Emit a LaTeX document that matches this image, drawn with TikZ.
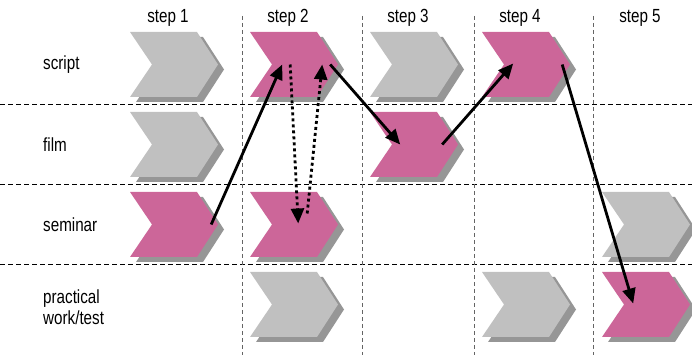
\documentclass[tikz,border=0pt]{standalone}
\usepackage{fontspec}
\usepackage{xcolor}
\usepackage{tikz}
\usetikzlibrary{calc,arrows.meta}
\newfontfamily\gridfont{Liberation Sans}[FakeStretch=0.8]
\definecolor{chevgray}{RGB}{192, 192, 192}
\definecolor{chevpink}{RGB}{204, 102, 153}
\definecolor{chevshade}{RGB}{150, 150, 150}
\definecolor{vlinegray}{RGB}{100, 100, 100}

\begin{document}
\begin{tikzpicture}[x=1pt,y=1pt,
  arr/.style={-{Triangle[length=15pt,width=13pt]}, line width=2.8pt},
  dotarr/.style={arr, dash pattern=on 3pt off 3pt},
  lbl/.style={font=\gridfont\fontsize{19}{21}\selectfont, inner sep=0},
  cell/.style={minimum width=88pt, minimum height=65pt, inner sep=0, anchor=west}]
\useasboundingbox (0,0) rectangle (692,358);

% Grid
\foreach \y in {254, 174, 94} {
    \draw[black, line width=0.8pt, dash pattern=on 5pt off 3pt] (0,\y) -- (692,\y);
}
\foreach \x in {242, 362, 474, 593} {
    \draw[vlinegray, line width=0.9pt, dash pattern=on 4pt off 3pt] (\x,342) -- (\x,3);
}

% Column and row labels
\node[lbl] (st1) at (168,340) {step 1};
\node[lbl] (st2) at (288,340) {step 2};
\node[lbl] (st3) at (408,340) {step 3};
\node[lbl] (st4) at (520,340) {step 4};
\node[lbl] (st5) at (640,340) {step 5};
\node[lbl, anchor=west] (rscr) at (43,293.5) {script};
\node[lbl, anchor=west] (rfilm) at (43,213.5) {film};
\node[lbl, anchor=west] (rsem) at (43,133.5) {seminar};
\node[lbl, anchor=west, align=left] (rprac) at (43,51) {practical\\work/test};

% Chevrons with shadow
\foreach \cx/\cy/\col/\nm in {
    130/293.5/chevgray/scr1, 250/293.5/chevpink/scr2, 370/293.5/chevgray/scr3, 482/293.5/chevpink/scr4,
    130/213.5/chevgray/film1, 370/213.5/chevpink/film3,
    130/133.5/chevpink/sem1, 250/133.5/chevpink/sem2, 602/133.5/chevgray/sem5,
    250/53.5/chevgray/prac2, 482/53.5/chevgray/prac4, 602/53.5/chevpink/prac5} {
    \fill[chevshade, shift={(\cx+6,\cy-5)}] (0,32.5) -- (67,32.5) -- (88,0) -- (67,-32.5) -- (0,-32.5) -- (22,0) -- cycle;
    \fill[\col, shift={(\cx,\cy)}] (0,32.5) -- (67,32.5) -- (88,0) -- (67,-32.5) -- (0,-32.5) -- (22,0) -- cycle;
    \node[cell] (\nm) at (\cx,\cy) {};
}

% Path through the steps
\draw[arr] ([xshift=37pt]sem1.center) -- ([xshift=-12pt]scr2.center);
\draw[dotarr] ([xshift=-4pt]scr2.center) -- ([xshift=4pt,yshift=1pt]sem2.center);
\draw[dotarr] ([xshift=13pt,yshift=11pt]sem2.center) -- ([xshift=28pt]scr2.center);
\draw[arr] ([xshift=36pt]scr2.center) -- ([xshift=-14pt]film3.center);
\draw[arr] ([xshift=28pt]film3.center) -- ([xshift=-13pt,yshift=1pt]scr4.center);
\draw[arr] ([xshift=36pt]scr4.center) -- ([xshift=-13pt,yshift=1pt]prac5.center);
\end{tikzpicture}
\end{document}
